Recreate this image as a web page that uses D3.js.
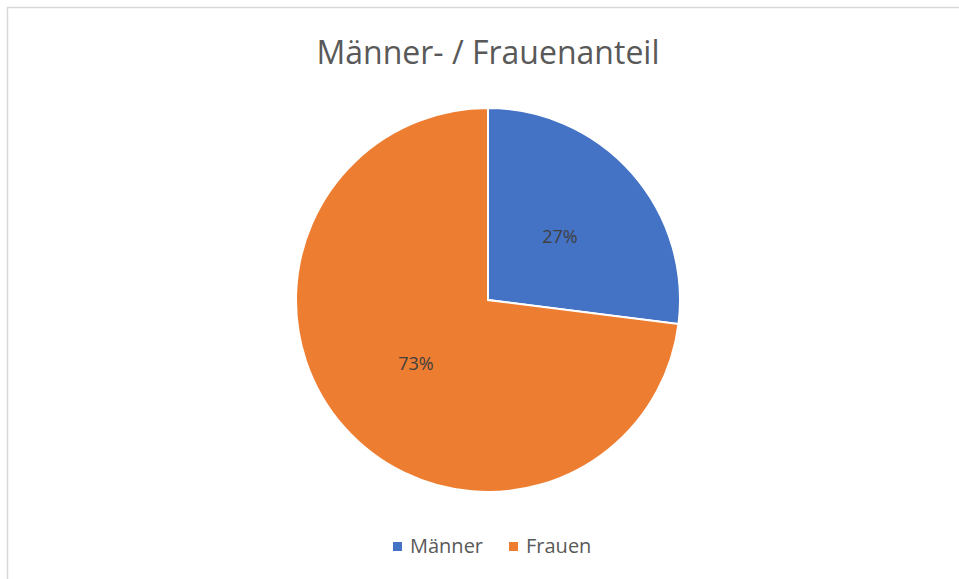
<!DOCTYPE html>
<html>
<head>
<meta charset="utf-8">
<script src="https://cdn.jsdelivr.net/npm/d3@7"></script>
<style>
  body { margin: 0; background: #fff; }
  text { font-family: "Open Sans", "Noto Sans", sans-serif; }
</style>
</head>
<body>
<div id="chart"></div>
<script>
const categories = ["Männer", "Frauen"];
const values = [27, 73];
const colors = ["#4472C4", "#ED7D31"];
const title = "Männer- / Frauenanteil";

const width = 959, height = 579;
const cx = 488, cy = 300, radius = 192;

const svg = d3.select("#chart")
  .append("svg")
  .attr("width", width)
  .attr("height", height);

// chart border
svg.append("rect")
  .attr("x", 7.5).attr("y", 7.5)
  .attr("width", width).attr("height", height)
  .attr("fill", "none")
  .attr("stroke", "#d9d9d9")
  .attr("stroke-width", 1.5);

svg.append("text")
  .attr("x", cx).attr("y", 64)
  .attr("text-anchor", "middle")
  .attr("fill", "#595959")
  .style("font-size", "32px")
  .text(title);

const pie = d3.pie().sort(null)(values);
const arc = d3.arc().innerRadius(0).outerRadius(radius);

const g = svg.append("g").attr("transform", `translate(${cx},${cy})`);

g.selectAll("path")
  .data(pie)
  .enter()
  .append("path")
  .attr("d", arc)
  .attr("fill", (d, i) => colors[i])
  .attr("stroke", "#fff")
  .attr("stroke-width", 2);

const total = d3.sum(values);
g.selectAll("text.lbl")
  .data(pie)
  .enter()
  .append("text")
  .attr("class", "lbl")
  .attr("transform", d => `translate(${arc.centroid(d)})`)
  .attr("text-anchor", "middle")
  .attr("dy", "0.35em")
  .attr("fill", "#404040")
  .style("font-size", "18px")
  .text(d => Math.round(d.data / total * 100) + "%");

// legend
const legendX = [393, 509];
const legend = svg.selectAll("g.leg")
  .data(categories)
  .enter()
  .append("g")
  .attr("class", "leg")
  .attr("transform", (d, i) => `translate(${legendX[i]},542)`);

legend.append("rect")
  .attr("width", 9).attr("height", 9)
  .attr("fill", (d, i) => colors[i]);

legend.append("text")
  .attr("x", 17).attr("y", 10.5)
  .attr("fill", "#595959")
  .style("font-size", "20px")
  .text(d => d);
</script>
</body>
</html>
